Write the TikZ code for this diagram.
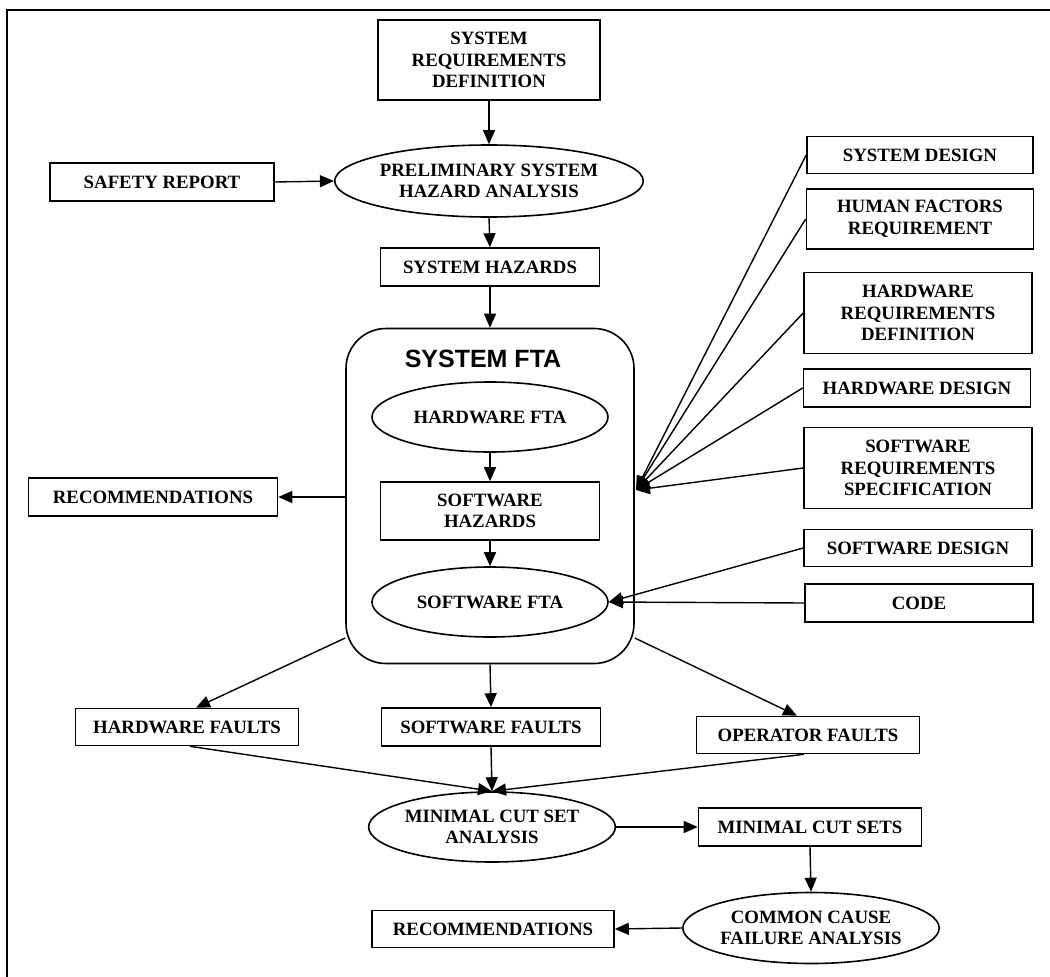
\documentclass[tikz,border=0pt]{standalone}
\usepackage{fontspec}
\setmainfont{Liberation Serif}
\newfontfamily\titlefont{Liberation Sans}
\usetikzlibrary{arrows.meta,shapes.geometric,calc}

\tikzset{
  txt/.style={font=\fontsize{18.8}{21.5}\selectfont\bfseries, align=center, inner sep=0pt},
  boxnode/.style={txt, draw, line width=1.6pt, rectangle},
  ellnode/.style={txt, draw, line width=1.6pt, ellipse},
  link/.style={line width=1.4pt, -{Triangle[length=14pt,width=12pt]}},
}

\begin{document}
\begin{tikzpicture}[x=1pt,y=-1pt]
\useasboundingbox (0,0) rectangle (1050,977);
\fill[white] (0,0) rectangle (1050,977);

% outer frame (top and left edges)
\draw[line width=1.8pt] (7,977) -- (7,10) -- (1050,10);

% main column
\node[boxnode, minimum width=222, minimum height=80] (srd) at (489,60) {SYSTEM\\REQUIREMENTS\\DEFINITION};
\node[ellnode, minimum width=237, minimum height=72] (psha) at (489,181) {PRELIMINARY SYSTEM\\HAZARD ANALYSIS};
\node[boxnode, minimum width=224, minimum height=38] (safety) at (162,182) {SAFETY REPORT};
\node[boxnode, minimum width=219, minimum height=38] (sh) at (490,267) {SYSTEM HAZARDS};

% system FTA container
\node[draw, line width=1.6pt, rounded corners=40pt, minimum width=288, minimum height=335, inner sep=0pt] (fta) at (490,496) {};
\node[inner sep=0pt, font=\titlefont\fontsize{25}{28}\selectfont\bfseries] (ftatitle) at (483,359) {SYSTEM FTA};
\node[ellnode, minimum width=236, minimum height=70] (hwfta) at (490,417) {HARDWARE FTA};
\node[boxnode, minimum width=219, minimum height=58] (swhaz) at (490,511) {SOFTWARE\\HAZARDS};
\node[ellnode, minimum width=236, minimum height=70] (swfta) at (490,602) {SOFTWARE FTA};

\node[boxnode, minimum width=249, minimum height=38] (rec1) at (153,497) {RECOMMENDATIONS};

% inputs on the right
\node[boxnode, minimum width=226, minimum height=37] (sd) at (920,155) {SYSTEM DESIGN};
\node[boxnode, minimum width=227, minimum height=60] (hfr) at (920,219) {HUMAN FACTORS\\REQUIREMENT};
\node[boxnode, minimum width=228, minimum height=81] (hrd) at (918,313) {HARDWARE\\REQUIREMENTS\\DEFINITION};
\node[boxnode, minimum width=227, minimum height=38] (hd) at (917,388) {HARDWARE DESIGN};
\node[boxnode, minimum width=228, minimum height=81] (srs) at (918,468) {SOFTWARE\\REQUIREMENTS\\SPECIFICATION};
\node[boxnode, minimum width=228, minimum height=37] (swd) at (918,548) {SOFTWARE DESIGN};
\node[boxnode, minimum width=228, minimum height=38] (code) at (919,603) {CODE};

% fault classes
\node[boxnode, minimum width=223, minimum height=37] (hwf) at (187,727) {HARDWARE FAULTS};
\node[boxnode, minimum width=219, minimum height=38] (swf) at (491,727) {SOFTWARE FAULTS};
\node[boxnode, minimum width=223, minimum height=37] (opf) at (808,735) {OPERATOR FAULTS};

% cut set analysis
\node[ellnode, minimum width=238, minimum height=70] (mcsa) at (492,827) {MINIMAL CUT SET\\ANALYSIS};
\node[boxnode, minimum width=223, minimum height=38] (mcs) at (810,827) {MINIMAL CUT SETS};
\node[ellnode, minimum width=242, minimum height=71] (ccfa) at (811,928) {COMMON CAUSE\\FAILURE ANALYSIS};
\node[boxnode, minimum width=242, minimum height=37] (rec2) at (493,929) {RECOMMENDATIONS};

% convergence point on the container's right edge
\coordinate (conv) at (636,490);

% connectors
\draw[link] (srd.south) -- (psha.north);
\draw[link] (safety.east) -- (psha.west);
\draw[link] (psha.south) -- (sh.north);
\draw[link] (sh.south) -- (fta.north);
\draw[link] (hwfta.south) -- (swhaz.north);
\draw[link] (swhaz.south) -- (swfta.north);
\draw[link] (fta.west |- rec1.east) -- (rec1.east);

\draw[link] (sd.west) -- (conv);
\draw[link] (hfr.west) -- (conv);
\draw[link] (hrd.west) -- (conv);
\draw[link] (hd.west) -- (conv);
\draw[link] (srs.west) -- (conv);
\draw[link] (swd.west) -- (swfta.east);
\draw[link] (code.west) -- (swfta.east);

\draw[link] ([yshift=-142pt]fta.west) -- ([xshift=9pt]hwf.north);
\draw[link] (fta.south) -- (swf.north);
\draw[link] ([yshift=-142pt]fta.east) -- ([xshift=-11pt]opf.north);

\draw[link] ([xshift=3pt]hwf.south) -- (mcsa.north);
\draw[link] (swf.south) -- (mcsa.north);
\draw[link] ([xshift=-4pt]opf.south) -- (mcsa.north);

\draw[link] (mcsa.east) -- (mcs.west);
\draw[link] (mcs.south) -- (ccfa.north);
\draw[link] (ccfa.west) -- (rec2.east);
\end{tikzpicture}
\end{document}
